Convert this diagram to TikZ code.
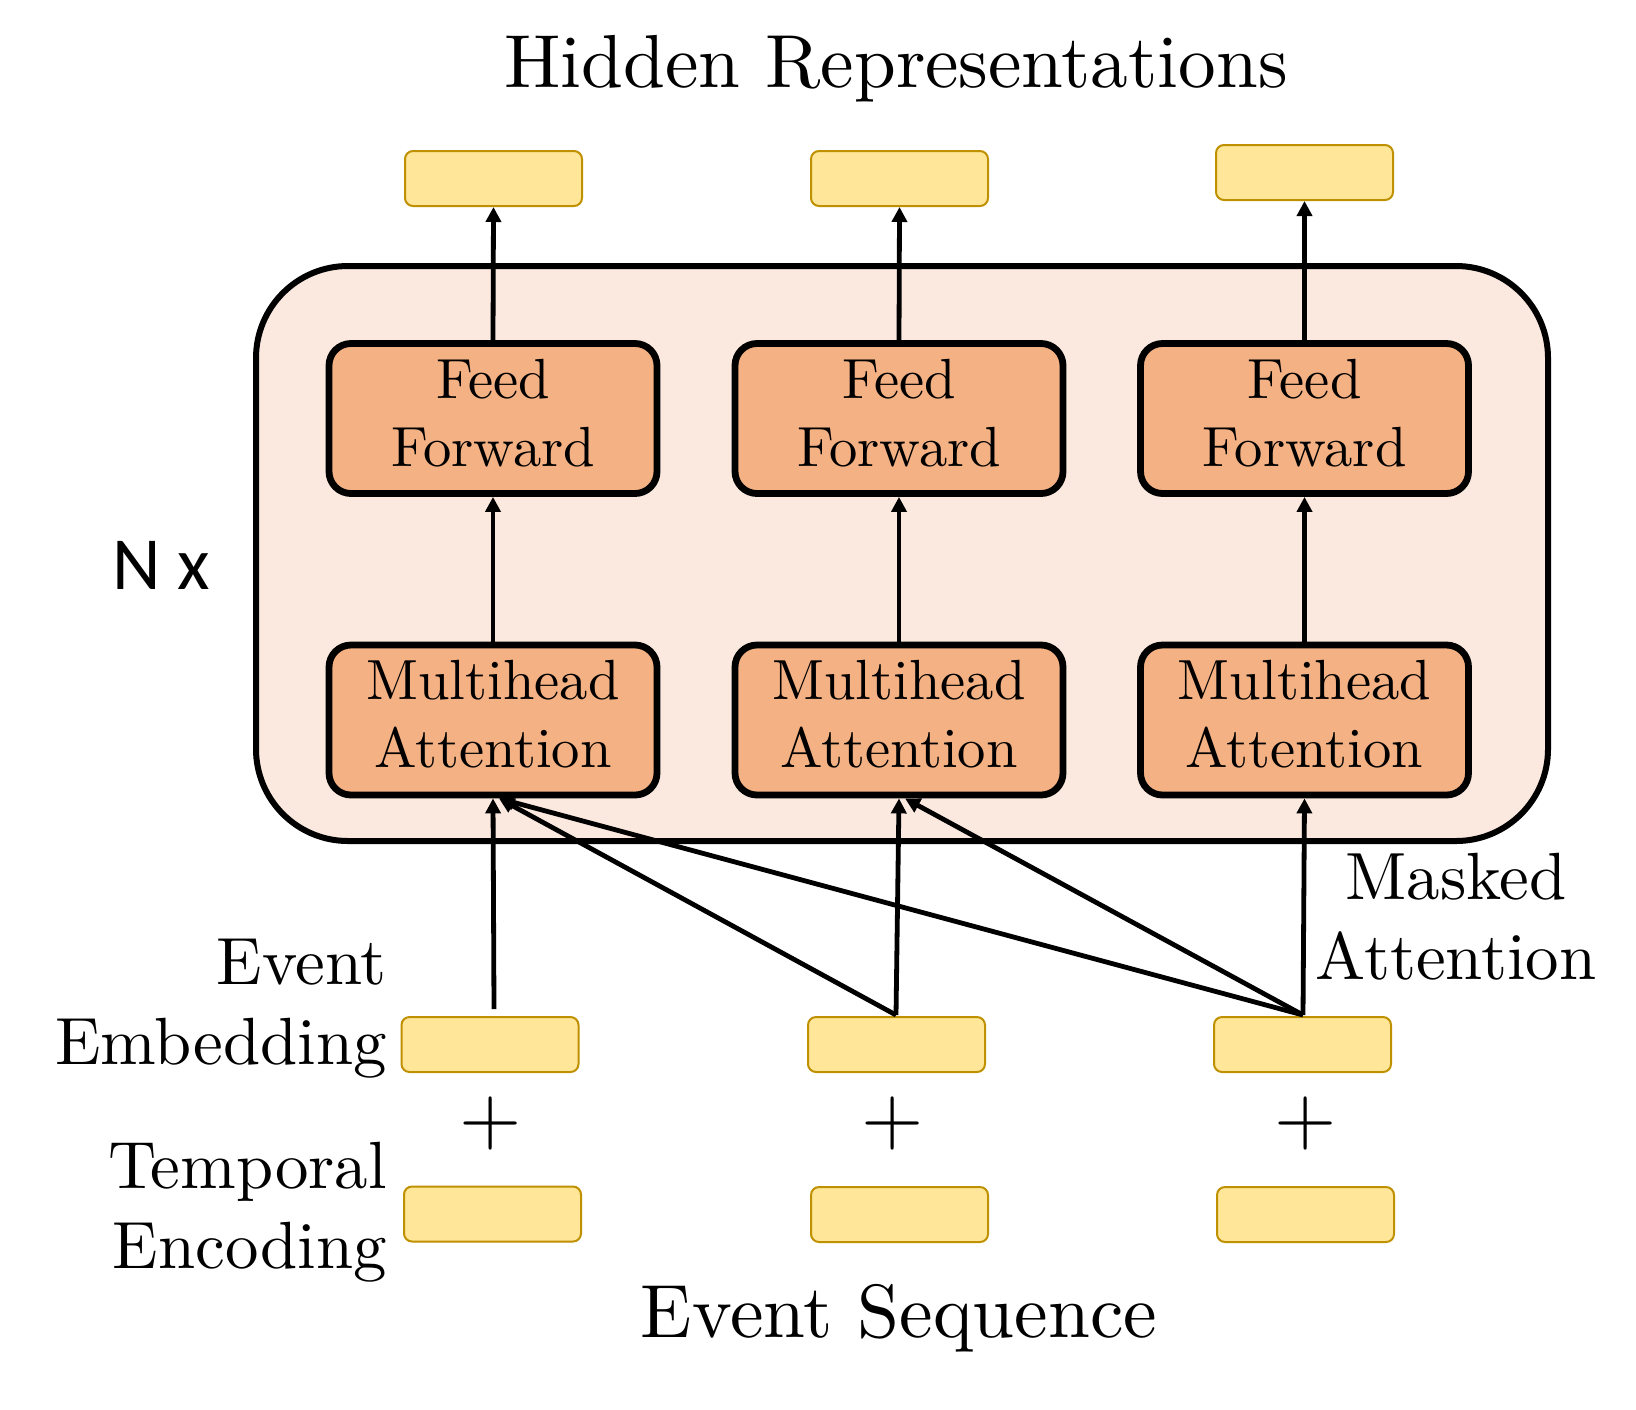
\documentclass[tikz,border=0pt]{standalone}
\usepackage{fontspec}
\usepackage{graphicx}
\newfontfamily\carl{Carlito}
\usetikzlibrary{arrows.meta,calc}
\definecolor{yfill}{HTML}{FFE699}
\definecolor{ydraw}{HTML}{BF9000}
\definecolor{ofill}{HTML}{F4B183}
\definecolor{bfill}{HTML}{FBE9DF}
\begin{document}
\begin{tikzpicture}[x=0.5pt,y=-0.5pt,
  ybox/.style={draw=ydraw,fill=yfill,line width=1pt,rounded corners=4pt,
    minimum width=88.5pt,minimum height=27.5pt,inner sep=0pt},
  obox/.style={draw=black,fill=ofill,line width=3.4pt,rounded corners=11pt,
    minimum width=164pt,minimum height=75pt,inner sep=0pt},
  bigbox/.style={draw=black,fill=bfill,line width=3pt,rounded corners=46pt,
    minimum width=646pt,minimum height=287.5pt,inner sep=0pt},
  arr/.style={line width=2.4pt,-{Triangle[length=7.5pt,width=7.5pt]}},
  lbl/.style={inner sep=0pt}
]
\useasboundingbox (0,0) rectangle (1636,1409);

% big block
\node[bigbox] (big) at (902,553.5) {};

% top outputs
\node[ybox] (t1) at (493.5,178.5) {};
\node[ybox] (t2) at (899.5,178.5) {};
\node[ybox] (t3) at (1304.5,172.5) {};

% feed forward
\node[obox] (f1) at (493,418.5) {\scalebox{2.83}{\begin{tabular}{@{}c@{}}Feed\\Forward\end{tabular}}};
\node[obox] (f2) at (899,418.5) {\scalebox{2.83}{\begin{tabular}{@{}c@{}}Feed\\Forward\end{tabular}}};
\node[obox] (f3) at (1304.5,418.5) {\scalebox{2.83}{\begin{tabular}{@{}c@{}}Feed\\Forward\end{tabular}}};

% multihead attention
\node[obox] (m1) at (493,720) {\scalebox{2.83}{\begin{tabular}{@{}c@{}}Multihead\\Attention\end{tabular}}};
\node[obox] (m2) at (899,720) {\scalebox{2.83}{\begin{tabular}{@{}c@{}}Multihead\\Attention\end{tabular}}};
\node[obox] (m3) at (1304.5,720) {\scalebox{2.83}{\begin{tabular}{@{}c@{}}Multihead\\Attention\end{tabular}}};

% event embeddings
\node[ybox] (e1) at (490,1044.5) {};
\node[ybox] (e2) at (896.5,1044.5) {};
\node[ybox] (e3) at (1302.5,1044.5) {};

% temporal encodings
\node[ybox] (p1) at (492.5,1214) {};
\node[ybox] (p2) at (899.5,1214.5) {};
\node[ybox] (p3) at (1305.5,1214.5) {};

% plus signs
\node (pl1) at (491,1123) {\scalebox{4}{$+$}};
\node (pl2) at (893,1123) {\scalebox{4}{$+$}};
\node (pl3) at (1306,1123) {\scalebox{4}{$+$}};

% texts
\node[lbl,anchor=base] (title) at (896,87) {\scalebox{3.76}{Hidden Representations}};
\node[lbl,anchor=base] (seq) at (899,1337) {\scalebox{3.77}{Event Sequence}};
\node[lbl,anchor=base east] (lblE) at (387,984) {\scalebox{3.34}{\begin{tabular}[t]{@{}r@{}}Event\\Embedding\end{tabular}}};
\node[lbl,anchor=base east] (lblT) at (387,1188) {\scalebox{3.34}{\begin{tabular}[t]{@{}r@{}}Temporal\\Encoding\end{tabular}}};
\node[lbl,anchor=base] (lblM) at (1456,899) {\scalebox{3.34}{\begin{tabular}[t]{@{}c@{}}Masked\\Attention\end{tabular}}};
\node[lbl,anchor=base west] (nx) at (112,589) {\carl\fontsize{37.5pt}{40pt}\selectfont N x};

% arrows up to outputs
\draw[arr] (f1.north) -- (t1.south);
\draw[arr] (f2.north) -- (t2.south);
\draw[arr] (f3.north) -- (t3.south);

% attention to feed forward
\draw[arr] (m1.north) -- (f1.south);
\draw[arr] (m2.north) -- (f2.south);
\draw[arr] (m3.north) -- (f3.south);

% masked attention connections
\coordinate (s1) at ($(e1.north)+(4,-7)$);
\coordinate (s2) at ($(e2.north)+(-0.5,-1)$);
\coordinate (s3) at ($(e3.north)+(0.5,-1)$);
\coordinate (a1) at ($(m1.south)+(6,0)$);
\coordinate (a2) at ($(m2.south)+(6,0)$);
\draw[arr] (s1) -- (m1.south);
\draw[arr] (s2) -- (a1);
\draw[arr] (s2) -- (m2.south);
\draw[arr] (s3) -- (a1);
\draw[arr] (s3) -- (a2);
\draw[arr] (s3) -- (m3.south);
\end{tikzpicture}
\end{document}
